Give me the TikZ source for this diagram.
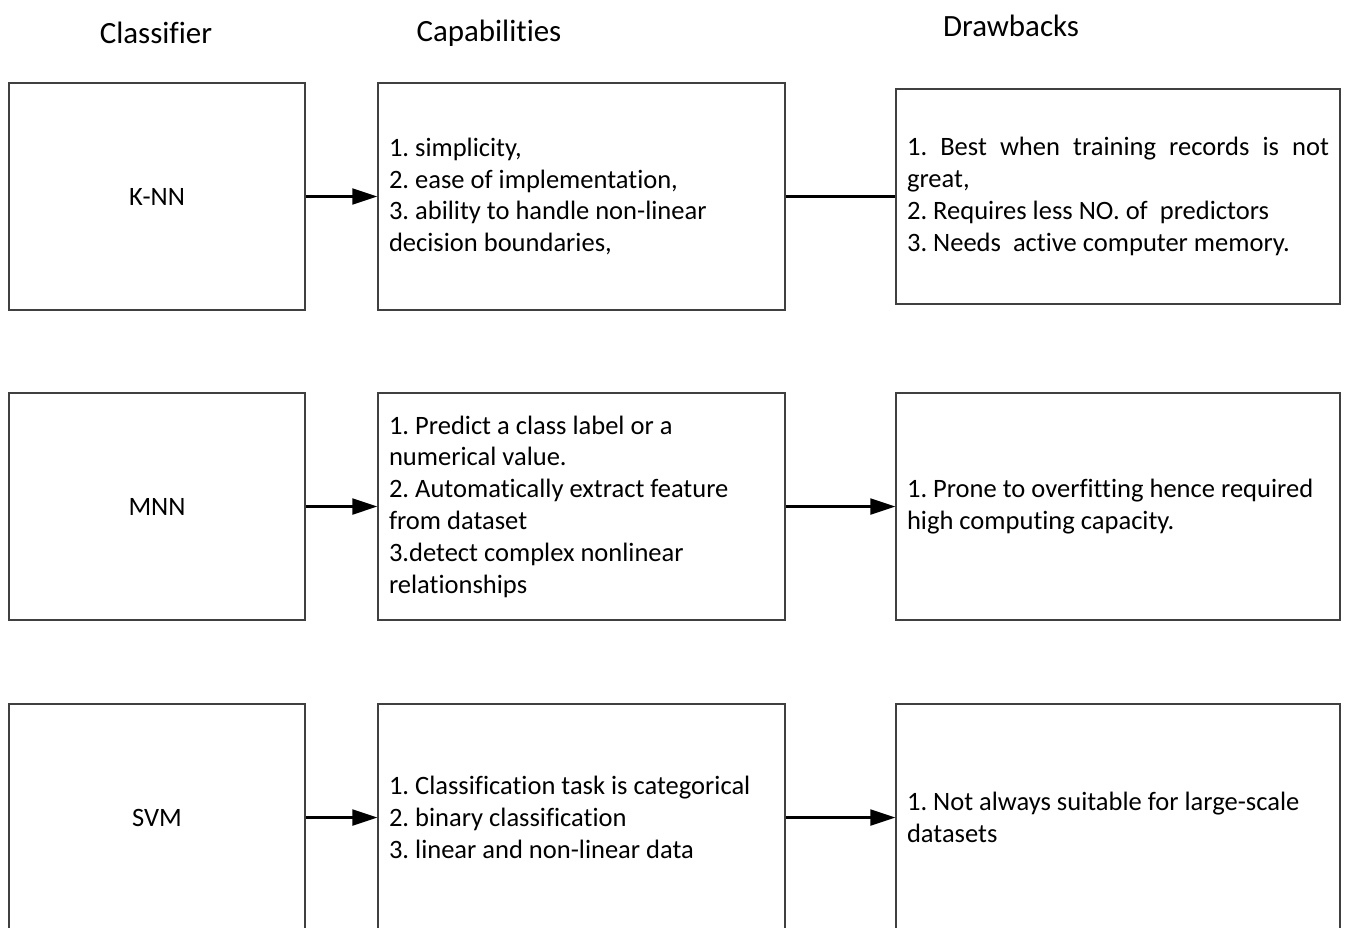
\documentclass[tikz,border=0pt]{standalone}
\usepackage{fontspec}
\setmainfont{Carlito}[Ligatures=NoCommon]
\usetikzlibrary{arrows.meta}

\begin{document}
\frenchspacing
\begin{tikzpicture}[x=0.02cm,y=-0.02cm,
  every node/.style={font=\fontsize{15.1}{18.1}\selectfont},
  head/.style={anchor=center,font=\fontsize{17.6}{20}\selectfont},
  clsbox/.style={draw=black!75,line width=0.8pt,minimum width=5.92cm,minimum height=4.54cm},
  capbox/.style={draw=black!75,line width=0.8pt,minimum width=8.14cm,minimum height=4.54cm,
    inner xsep=0.22cm,text width=7.70cm,align=flush left},
  drawbox/.style={draw=black!75,line width=0.8pt,minimum width=8.88cm,minimum height=4.54cm,
    inner xsep=0.22cm,text width=8.44cm,align=flush left},
  link/.style={line width=1.2pt,-{Triangle[length=0.5cm,width=0.32cm]}},
  plain/.style={line width=1.2pt}]

\useasboundingbox (0,0) rectangle (1346,927);

% column titles
\node[head] (tcls)  at (156,33) {Classifier};
\node[head] (tcap)  at (489,33) {Capabilities};
\node[head] (tdraw) at (1011,26) {Drawbacks};

% K-NN
\node[clsbox] (knn) at (157,196.5) {K-NN};
\node[capbox] (knncap) at (581.5,196.5) {1. simplicity,\\2. ease of implementation,\\3. ability to handle non-linear\\decision boundaries,};
\node[drawbox,minimum height=4.30cm] (knndraw) at (1118,196.5) {\makebox[\linewidth][s]{1. Best when training records is not}\\great,\\2. Requires less NO. of~ predictors\\3. Needs~ active computer memory.};

% MNN
\node[clsbox] (mnn) at (157,506.5) {MNN};
\node[capbox] (mnncap) at (581.5,506.5) {1. Predict a class label or a\\numerical value.\\2. Automatically extract feature\\from dataset\\3.detect complex nonlinear\\relationships};
\node[drawbox] (mnndraw) at (1118,506.5) {1. Prone to overfitting hence required\\high computing capacity.};

% SVM
\node[clsbox] (svm) at (157,817.5) {SVM};
\node[capbox] (svmcap) at (581.5,817.5) {1. Classification task is categorical\\2. binary classification\\3. linear and non-linear data};
\node[drawbox] (svmdraw) at (1118,817.5) {1. Not always suitable for large-scale\\datasets};

% connectors
\draw[link] (knn) -- (knncap);
\draw[plain] (knncap) -- (knndraw);
\draw[link] (mnn) -- (mnncap);
\draw[link] (mnncap) -- (mnndraw);
\draw[link] (svm) -- (svmcap);
\draw[link] (svmcap) -- (svmdraw);

\end{tikzpicture}
\end{document}
